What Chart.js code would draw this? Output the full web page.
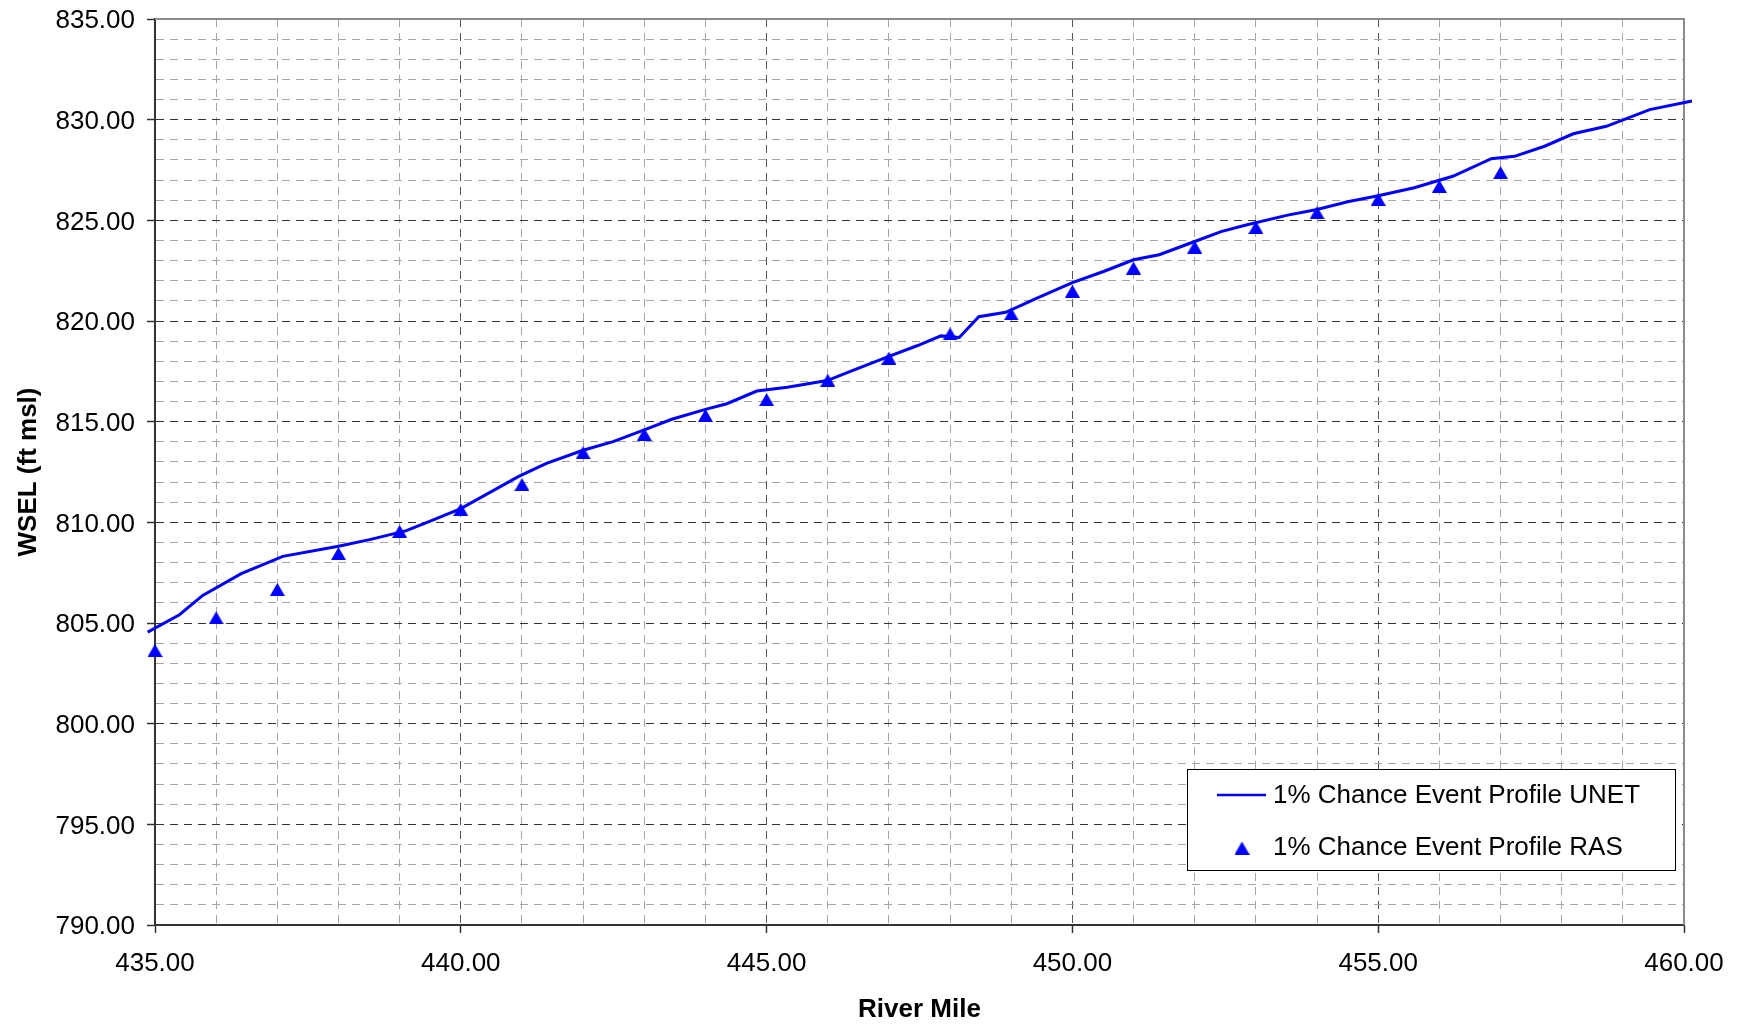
<!DOCTYPE html>
<html>
<head>
<meta charset="utf-8">
<title>WSEL Profile</title>
<script src="https://cdn.jsdelivr.net/npm/chart.js@4/dist/chart.umd.min.js"></script>
<style>
  html, body { margin: 0; padding: 0; background: #ffffff; }
  #c { display: block; }
</style>
</head>
<body>
<canvas id="c" width="1739" height="1025"></canvas>
<script>
// 1% chance event water-surface profile, UNET model (river mile, WSEL ft msl)
const unetMiles = [
  434.88, 435.40, 435.78, 436.41, 437.09, 438.00, 438.51, 439.11, 439.49, 440.00,
  440.94, 441.40, 442.00, 442.49, 443.00, 443.45, 444.00, 444.35, 444.84, 445.34,
  445.99, 446.37, 447.00, 447.46, 447.85, 448.15, 448.47, 448.91, 449.43, 450.00,
  450.52, 451.00, 451.42, 452.00, 452.43, 452.84, 453.52, 454.00, 454.50, 455.00,
  455.59, 456.00, 456.22, 456.85, 457.23, 457.72, 458.19, 458.73, 459.44, 460.13
];
const unetWsel = [
  804.55, 805.41, 806.37, 807.45, 808.31, 808.81, 809.14, 809.59, 810.05, 810.68,
  812.27, 812.93, 813.58, 814.01, 814.59, 815.12, 815.61, 815.89, 816.52, 816.71,
  817.04, 817.50, 818.24, 818.77, 819.26, 819.18, 820.21, 820.43, 821.15, 821.91,
  822.47, 823.04, 823.29, 823.95, 824.44, 824.77, 825.26, 825.54, 825.92, 826.22,
  826.62, 826.99, 827.19, 828.06, 828.18, 828.68, 829.30, 829.67, 830.50, 830.93
];

// Same event, RAS model, one value per river mile
const rasMiles = [
  435, 436, 437, 438, 439, 440, 441, 442, 443, 444, 445, 446,
  447, 448, 449, 450, 451, 452, 453, 454, 455, 456, 457
];
const rasWsel = [
  803.64, 805.26, 806.67, 808.45, 809.55, 810.64, 811.88, 813.46, 814.37, 815.31, 816.10, 817.06,
  818.16, 819.36, 820.35, 821.48, 822.63, 823.67, 824.65, 825.38, 826.05, 826.69, 827.37
];

// Axis ranges and labelled ticks
const mileRange = [435, 460];
const wselRange = [790, 835];
const majorEvery = 5;

const seriesNames = ['1% Chance Event Profile UNET', '1% Chance Event Profile RAS'];

const FONT = "'Liberation Sans', Arial, Helvetica, sans-serif";
const BLUE = '#0000ff';

// Filled triangle marker, centred on its bounding box
function makeTriangle(w, h, color) {
  const cv = document.createElement('canvas');
  cv.width = w; cv.height = h;
  const g = cv.getContext('2d');
  g.fillStyle = color;
  g.beginPath();
  g.moveTo(w / 2, 0);
  g.lineTo(w, h);
  g.lineTo(0, h);
  g.closePath();
  g.fill();
  return cv;
}
const triangle = makeTriangle(15, 13, BLUE);

const isMajor = v => Math.abs(Math.round(v) % majorEvery) === 0 && Math.abs(v - Math.round(v)) < 1e-6;

// Solid top and right frame of the plot area
const frameLines = {
  id: 'frameLines',
  beforeDatasetsDraw(chart) {
    const { ctx, chartArea: a } = chart;
    ctx.save();
    ctx.strokeStyle = '#8c8c8c';
    ctx.lineWidth = 2;
    ctx.beginPath();
    ctx.moveTo(a.left, a.top);
    ctx.lineTo(a.right, a.top);
    ctx.lineTo(a.right, a.bottom);
    ctx.stroke();
    ctx.restore();
  }
};

// Boxed legend in the lower right of the plot area
const boxLegend = {
  id: 'boxLegend',
  afterDatasetsDraw(chart) {
    const { ctx, chartArea: a } = chart;
    const w = 488, h = 101;
    const left = a.right - 9 - w;
    const top = a.bottom - 55 - h;
    ctx.save();
    ctx.fillStyle = '#ffffff';
    ctx.fillRect(left, top, w, h);
    ctx.strokeStyle = '#000000';
    ctx.lineWidth = 1;
    ctx.strokeRect(Math.round(left) + 0.5, Math.round(top) + 0.5, w, h);

    const rows = [top + 27, top + 79];
    const ds = chart.data.datasets;
    // line sample
    ctx.strokeStyle = ds[0].borderColor;
    ctx.lineWidth = 2.5;
    ctx.beginPath();
    ctx.moveTo(left + 30, rows[0] - 1);
    ctx.lineTo(left + 79, rows[0] - 1);
    ctx.stroke();
    // marker sample
    ctx.drawImage(triangle, left + 55 - triangle.width / 2, rows[1] - triangle.height / 2);

    ctx.fillStyle = '#000000';
    ctx.font = '26px ' + FONT;
    ctx.textAlign = 'left';
    ctx.textBaseline = 'middle';
    ctx.fillText(ds[0].label, left + 86, rows[0]);
    ctx.fillText(ds[1].label, left + 86, rows[1]);
    ctx.restore();
  }
};

const tickFont = { family: FONT, size: 26 };
const titleFont = { family: FONT, size: 26, weight: 'bold' };

new Chart(document.getElementById('c'), {
  type: 'scatter',
  data: {
    datasets: [
      {
        label: seriesNames[0],
        data: unetMiles.map((m, i) => ({ x: m, y: unetWsel[i] })),
        showLine: true,
        borderColor: BLUE,
        borderWidth: 3,
        pointRadius: 0,
        pointHoverRadius: 0,
        tension: 0,
        clip: false,
        order: 2
      },
      {
        label: seriesNames[1],
        data: rasMiles.map((m, i) => ({ x: m, y: rasWsel[i] })),
        showLine: false,
        pointStyle: triangle,
        pointRadius: 8,
        backgroundColor: BLUE,
        borderColor: BLUE,
        clip: false,
        order: 1
      }
    ]
  },
  options: {
    responsive: false,
    animation: false,
    devicePixelRatio: 1,
    layout: { padding: { top: 19, right: 55, left: 0, bottom: 0 } },
    plugins: {
      legend: { display: false },
      tooltip: { enabled: false }
    },
    scales: {
      x: {
        type: 'linear',
        position: 'bottom',
        min: mileRange[0],
        max: mileRange[1],
        afterFit: s => { s.height = 100; s.paddingLeft = 0; s.paddingRight = 0; },
        ticks: {
          stepSize: 1,
          autoSkip: false,
          maxRotation: 0,
          color: '#000000',
          font: tickFont,
          padding: 15,
          callback: v => isMajor(v) ? Number(v).toFixed(2) : ''
        },
        grid: {
          color: c => isMajor(c.tick.value) ? '#555555' : '#a6a6a6',
          lineWidth: 1,
          tickLength: 8,
          tickWidth: 1.5,
          tickColor: c => isMajor(c.tick.value) ? '#333333' : 'rgba(0,0,0,0)'
        },
        border: { color: '#333333', width: 2, dash: [8, 6] },
        title: {
          display: true,
          text: 'River Mile',
          color: '#000000',
          font: titleFont,
          padding: { top: 0, bottom: 0 }
        }
      },
      y: {
        type: 'linear',
        position: 'left',
        min: wselRange[0],
        max: wselRange[1],
        afterFit: s => { s.width = 155; s.paddingTop = 0; s.paddingBottom = 0; },
        ticks: {
          stepSize: 1,
          autoSkip: false,
          color: '#000000',
          font: tickFont,
          padding: 12,
          labelOffset: 2,
          callback: v => isMajor(v) ? Number(v).toFixed(2) : ''
        },
        grid: {
          color: c => isMajor(c.tick.value) ? '#333333' : '#a6a6a6',
          lineWidth: 1,
          tickLength: 8,
          tickWidth: 1.5,
          tickColor: c => isMajor(c.tick.value) ? '#333333' : 'rgba(0,0,0,0)'
        },
        border: { color: '#333333', width: 2, dash: [8, 6] },
        title: {
          display: true,
          text: 'WSEL (ft msl)',
          color: '#000000',
          font: titleFont,
          padding: { top: 13, bottom: 0 }
        }
      }
    }
  },
  plugins: [frameLines, boxLegend]
});
</script>
</body>
</html>
